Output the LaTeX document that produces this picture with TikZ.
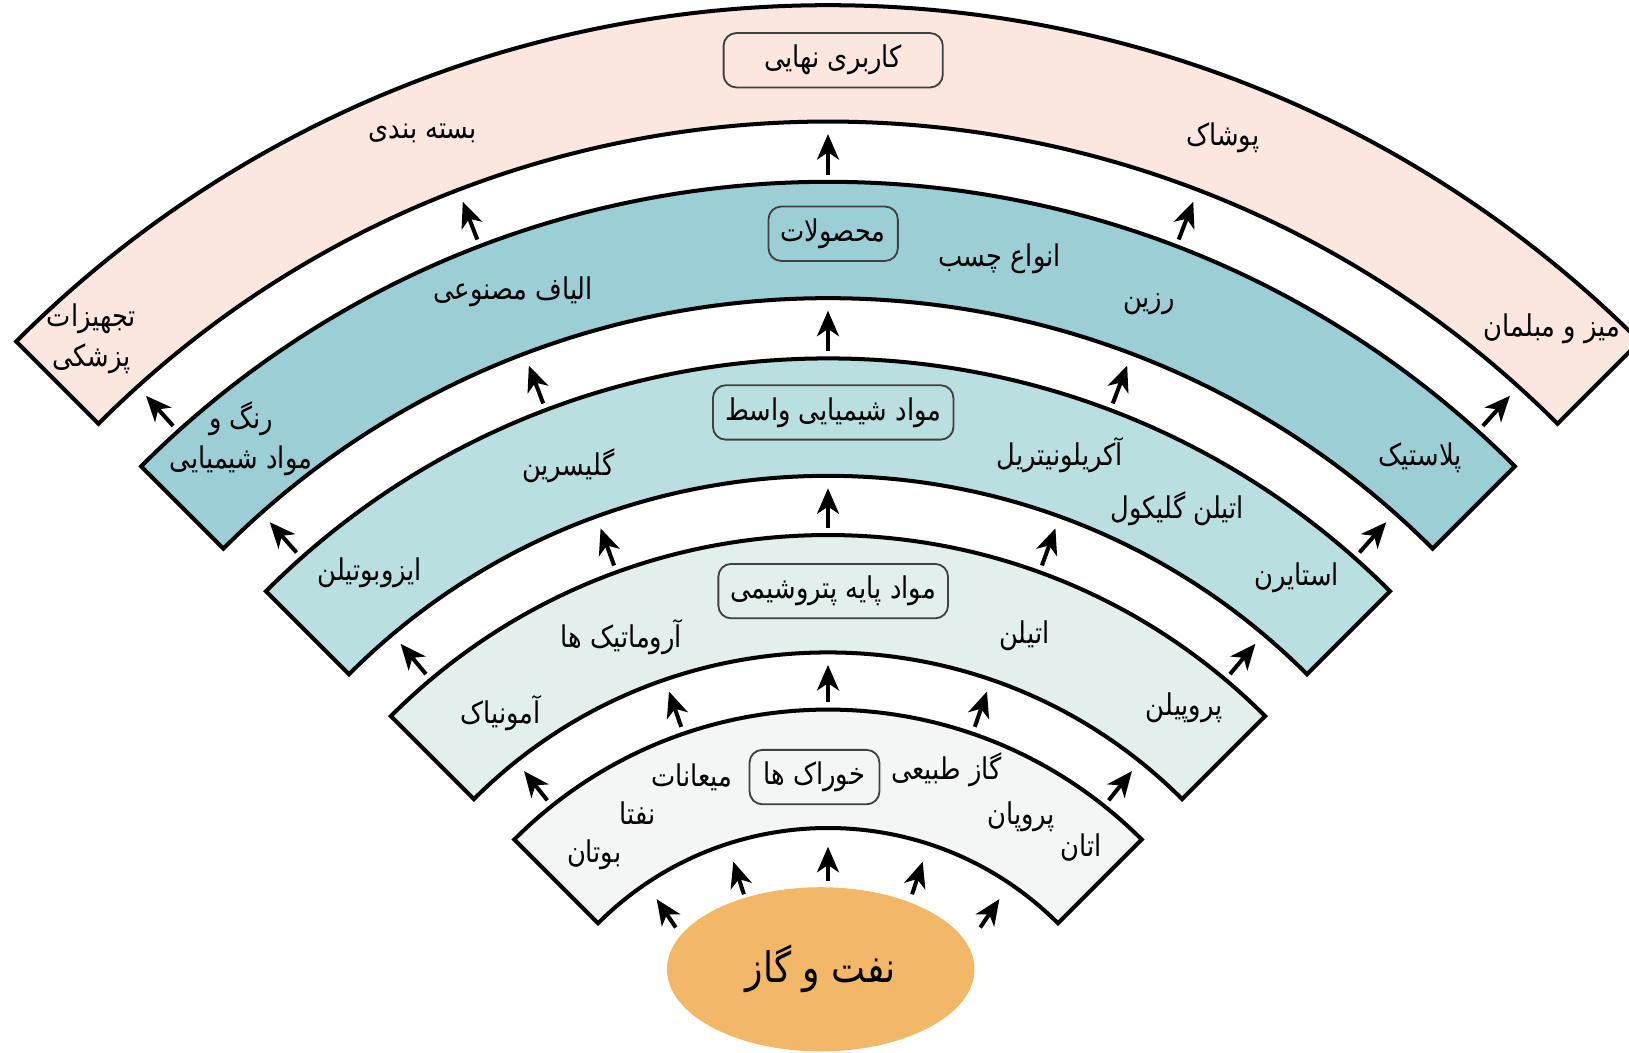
\documentclass[tikz,border=0pt]{standalone}
\usepackage{fontspec}
\newfontfamily\fa[Script=Arabic, FakeStretch=0.86]{DejaVu Sans}
\TeXXeTstate=1
\usetikzlibrary{arrows.meta,shapes.geometric}
\definecolor{enduse}{HTML}{FCE6E0}
\definecolor{product}{HTML}{9CCFD5}
\definecolor{interm}{HTML}{BADFE0}
\definecolor{basechem}{HTML}{E2EFEC}
\definecolor{feedstock}{HTML}{F4F6F5}
\definecolor{oilgas}{HTML}{F3B867}
\newcommand{\rtl}[1]{\beginR #1\endR}

\begin{document}
\begin{tikzpicture}[
    band/.style={draw=black, line width=1.1pt},
    title/.style={draw=black!75, rounded corners=3.5pt, line width=0.5pt, minimum height=0.52cm, font=\fa\fontsize{8.2}{11}\selectfont},
    lbl/.style={font=\fa\fontsize{8.2}{11}\selectfont, align=center, inner sep=1pt},
    flow/.style={-{Stealth[length=7pt,width=6pt,inset=2pt]}, line width=1.1pt}
  ]
  \clip (-7.97,0.97) rectangle (7.71,11.10);
  % the five bands
  \foreach \ri/\ro/\c in {3.13/4.27/feedstock, 4.82/5.95/basechem, 6.52/7.65/interm, 8.23/9.35/product, 9.93/11.05/enduse}
    \draw[band, fill=\c] (135:\ro) arc (135:45:\ro) -- (45:\ri) arc (45:135:\ri) -- cycle;
  % source
  \node[ellipse, fill=oilgas, minimum width=2.96cm, minimum height=1.58cm, inner sep=0pt, font=\fa\fontsize{11.5}{13}\selectfont] (oil) at (-0.07,1.77) {\rtl{نفت و گاز}};
  % arrows
  \foreach \a in {124,108,90,72,56}
    \draw[flow] ({\a}:2.62) -- ({\a}:2.95);
  \foreach \ro/\ri/\p/\q in {4.27/4.82/128.5/109, 5.95/6.52/130/110, 7.65/8.23/131.5/110.8, 9.35/9.93/132/111}
    \foreach \a in {\p,\q,90,180-\q,180-\p}
      \draw[flow] ({\a}:{\ro+0.07}) -- ({\a}:{\ri-0.12});
  % titles
  \node[title, fill=enduse, minimum width=2.11cm] (enduse) at (0.05,10.52) {\rtl{کاربری نهایی}};
  \node[title, fill=product, minimum width=1.20cm] (products) at (0.05,8.85) {\rtl{محصولات}};
  \node[title, fill=interm, minimum width=2.11cm] (interm) at (0.05,7.13) {\rtl{مواد شیمیایی واسط}};
  \node[title, fill=basechem, minimum width=2.11cm] (basechem) at (0.05,5.41) {\rtl{مواد پایه پتروشیمی}};
  \node[title, fill=feedstock, minimum width=1.25cm] (feed) at (-0.13,3.62) {\rtl{خوراک ها}};
  % end use
  \node[lbl] (packing) at (-3.90,9.82) {\rtl{بسته بندی}};
  \node[lbl] (clothing) at (3.80,9.77) {\rtl{پوشاک}};
  \node[lbl] (medical) at (-7.09,7.84) {\rtl{تجهیزات}\\\rtl{پزشکی}};
  \node[lbl] (furniture) at (6.97,7.94) {\rtl{میز و مبلمان}};
  % products
  \node[lbl] (fibres) at (-3.03,8.29) {\rtl{الیاف مصنوعی}};
  \node[lbl] (glue) at (1.65,8.61) {\rtl{انواع چسب}};
  \node[lbl] (resin) at (3.09,8.17) {\rtl{رزین}};
  \node[lbl] (paint) at (-5.65,6.88) {\rtl{رنگ و}\\\rtl{مواد شیمیایی}};
  \node[lbl] (plastic) at (5.70,6.69) {\rtl{پلاستیک}};
  % intermediates
  \node[lbl] (glycerin) at (-2.50,6.62) {\rtl{گلیسرین}};
  \node[lbl] (acrylo) at (2.23,6.72) {\rtl{آکریلونیتریل}};
  \node[lbl] (glycol) at (3.36,6.20) {\rtl{اتیلن گلیکول}};
  \node[lbl] (isobut) at (-4.41,5.59) {\rtl{ایزوبوتیلن}};
  \node[lbl] (styrene) at (4.51,5.54) {\rtl{استایرن}};
  % base chemicals
  \node[lbl] (aromatics) at (-1.99,4.97) {\rtl{آروماتیک ها}};
  \node[lbl] (ethylene) at (1.89,4.98) {\rtl{اتیلن}};
  \node[lbl] (ammonia) at (-3.15,4.24) {\rtl{آمونیاک}};
  \node[lbl] (propylene) at (3.43,4.29) {\rtl{پروپیلن}};
  % feedstocks
  \node[lbl] (condens) at (-1.31,3.62) {\rtl{میعانات}};
  \node[lbl] (natgas) at (1.14,3.69) {\rtl{گاز طبیعی}};
  \node[lbl] (naphtha) at (-1.83,3.27) {\rtl{نفتا}};
  \node[lbl] (propane) at (1.86,3.24) {\rtl{پروپان}};
  \node[lbl] (butane) at (-2.25,2.87) {\rtl{بوتان}};
  \node[lbl] (ethane) at (2.44,2.94) {\rtl{اتان}};
\end{tikzpicture}
\end{document}
